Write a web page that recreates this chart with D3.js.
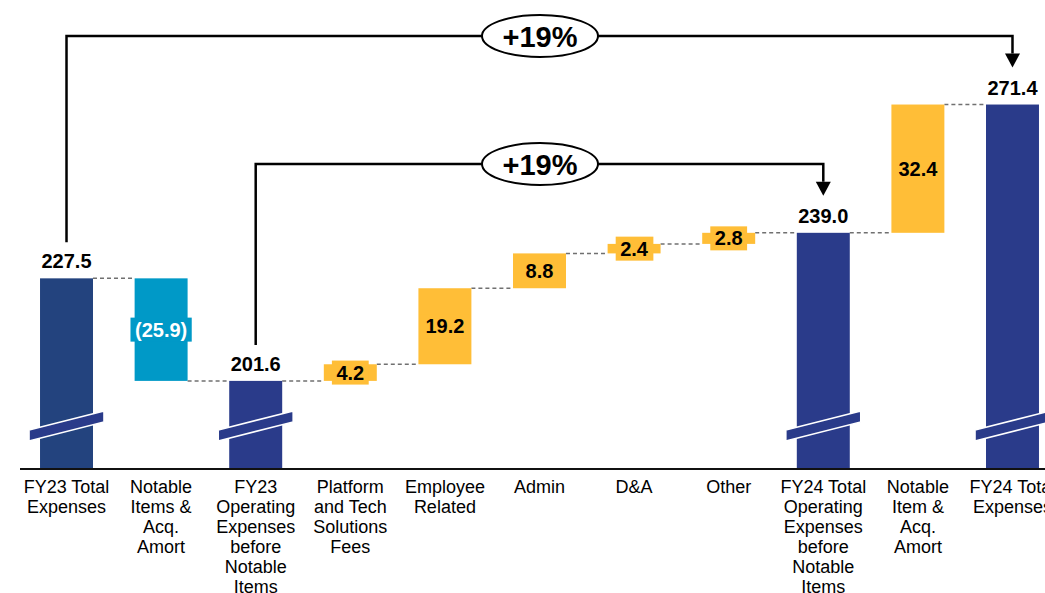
<!DOCTYPE html>
<html>
<head>
<meta charset="utf-8">
<script src="https://cdn.jsdelivr.net/npm/d3@7"></script>
<style>
  html, body { margin: 0; padding: 0; background: #fff; }
  svg { display: block; font-family: "Liberation Sans", Arial, sans-serif; }
</style>
</head>
<body>
<svg id="chart" width="1045" height="593"></svg>
<script>
// ---- data ----
const categories = [
  "FY23 Total Expenses", "Notable Items & Acq. Amort", "FY23 Operating Expenses before Notable Items",
  "Platform and Tech Solutions Fees", "Employee Related", "Admin", "D&A", "Other",
  "FY24 Total Operating Expenses before Notable Items", "Notable Item & Acq. Amort", "FY24 Total Expenses"
];
const categoryLines = [
  ["FY23 Total", "Expenses"],
  ["Notable", "Items &", "Acq.", "Amort"],
  ["FY23", "Operating", "Expenses", "before", "Notable", "Items"],
  ["Platform", "and Tech", "Solutions", "Fees"],
  ["Employee", "Related"],
  ["Admin"],
  ["D&A"],
  ["Other"],
  ["FY24 Total", "Operating", "Expenses", "before", "Notable", "Items"],
  ["Notable", "Item &", "Acq.", "Amort"],
  ["FY24 Total", "Expenses"]
];
// type: "total" bars show absolute value, "delta" bars float
const barTypes = ["total", "delta", "total", "delta", "delta", "delta", "delta", "delta", "total", "delta", "total"];
const values = [227.5, -25.9, 201.6, 4.2, 19.2, 8.8, 2.4, 2.8, 239.0, 32.4, 271.4];
const valueLabels = ["227.5", "(25.9)", "201.6", "4.2", "19.2", "8.8", "2.4", "2.8", "239.0", "32.4", "271.4"];
const growthLabels = ["+19%", "+19%"];
const growthPairs = [[0, 10], [2, 8]];
const axisMin = 179.6, axisMax = 297.8;

// ---- build bars ----
let running = 0;
const bars = categories.map((c, i) => {
  let y0, y1;
  if (barTypes[i] === "total") { y0 = axisMin; y1 = values[i]; running = values[i]; }
  else { y0 = running; y1 = running + values[i]; running = y1; }
  return { cat: c, i, type: barTypes[i], v: values[i], lo: Math.min(y0, y1), hi: Math.max(y0, y1), end: running, label: valueLabels[i] };
});

const svg = d3.select("#chart");
const W = 1045, baseY = 468;
const x = d3.scaleBand().domain(categories).range([-1.6, 1080.6]).paddingInner(0.44).paddingOuter(0.44);
const y = d3.scaleLinear().domain([axisMin, axisMax]).range([baseY, 0]);
const bw = x.bandwidth();
const cx = c => x(c) + bw / 2;

const colTotal0 = "#23437e", colTotal = "#2a3b8a", colNeg = "#0099c7", colPos = "#ffbe37";
const fillOf = d => d.type === "total" ? (d.i === 0 ? colTotal0 : colTotal) : (d.v < 0 ? colNeg : colPos);

// connectors
const conn = svg.append("g");
bars.slice(0, -1).forEach((d, k) => {
  const n = bars[k + 1];
  conn.append("line")
    .attr("x1", x(d.cat) + bw).attr("x2", x(n.cat))
    .attr("y1", y(d.end)).attr("y2", y(d.end))
    .attr("stroke", "#707070").attr("stroke-width", 1.5).attr("stroke-dasharray", "4,3");
});

// bars
svg.append("g").selectAll("rect").data(bars).join("rect")
  .attr("x", d => x(d.cat)).attr("width", bw)
  .attr("y", d => y(d.hi)).attr("height", d => y(d.lo) - y(d.hi))
  .attr("fill", fillOf);

// axis break marks on total bars
const brk = svg.append("g");
bars.filter(d => d.type === "total").forEach(d => {
  const l = x(d.cat) - 11, r = x(d.cat) + bw + 11;
  brk.append("path")
    .attr("d", `M${l},${baseY - 38} L${r},${baseY - 57} L${r},${baseY - 46} L${l},${baseY - 27} Z`)
    .attr("fill", colTotal).attr("stroke", "#fff").attr("stroke-width", 1.6);
});

// baseline
svg.append("line").attr("x1", 20).attr("x2", W).attr("y1", baseY + 1).attr("y2", baseY + 1)
  .attr("stroke", "#111").attr("stroke-width", 2);

// value labels
const lab = svg.append("g").attr("font-weight", "bold").attr("font-size", 20);
bars.forEach(d => {
  if (d.type === "total") {
    lab.append("text").attr("x", cx(d.cat)).attr("y", y(d.hi) - 10)
      .attr("text-anchor", "middle").attr("fill", "#000").text(d.label);
  } else {
    const my = (y(d.hi) + y(d.lo)) / 2;
    const t = lab.append("text").attr("x", cx(d.cat)).attr("y", my + 7)
      .attr("text-anchor", "middle").attr("fill", d.v < 0 ? "#fff" : "#000").text(d.label);
    const bb = t.node().getBBox();
    lab.insert("rect", () => t.node())
      .attr("x", bb.x - 4.5).attr("width", bb.width + 9)
      .attr("y", my - 12).attr("height", 24)
      .attr("fill", fillOf(d));
  }
});

// category labels
const cl = svg.append("g").attr("font-size", 18).attr("fill", "#000");
categories.forEach((c, i) => {
  const t = cl.append("text").attr("x", cx(c)).attr("y", baseY + 25).attr("text-anchor", "middle");
  categoryLines[i].forEach((ln, j) => {
    t.append("tspan").attr("x", cx(c)).attr("dy", j === 0 ? 0 : 20).text(ln);
  });
});

// growth arrows
const arrowLevels = [36, 164];
const ar = svg.append("g");
growthPairs.forEach(([a, b], k) => {
  const xa = cx(categories[a]), xb = cx(categories[b]);
  const ly = arrowLevels[k];
  const startY = y(bars[a].hi) - 36;
  const tipY = y(bars[b].hi) - 37;
  ar.append("path")
    .attr("d", `M${xa},${startY} L${xa},${ly} L${xb},${ly} L${xb},${tipY - 14}`)
    .attr("fill", "none").attr("stroke", "#000").attr("stroke-width", 2.5);
  ar.append("path")
    .attr("d", `M${xb - 7.5},${tipY - 14} L${xb + 7.5},${tipY - 14} L${xb},${tipY} Z`)
    .attr("fill", "#000");
  const ex = 540;
  ar.append("ellipse").attr("cx", ex).attr("cy", ly).attr("rx", 58).attr("ry", 21)
    .attr("fill", "#fff").attr("stroke", "#000").attr("stroke-width", 2);
  ar.append("text").attr("x", ex).attr("y", ly + 10.5).attr("text-anchor", "middle")
    .attr("font-size", 29).attr("font-weight", "bold").text(growthLabels[k]);
});
</script>
</body>
</html>
